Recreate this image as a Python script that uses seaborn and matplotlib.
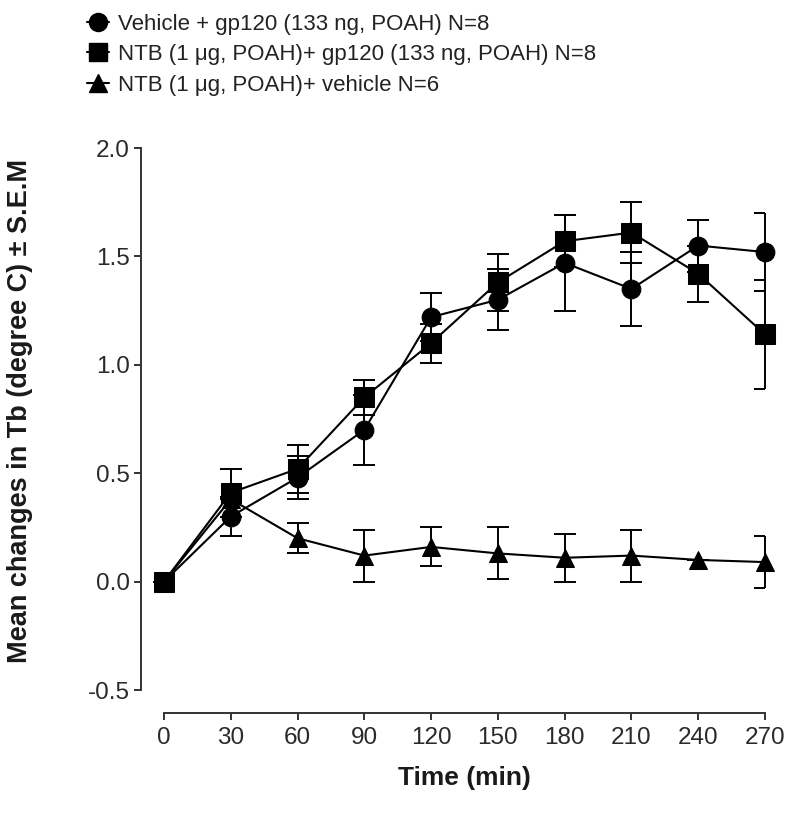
import matplotlib
matplotlib.use("Agg")
import matplotlib.pyplot as plt
import seaborn as sns
import pandas as pd
import numpy as np
from matplotlib.lines import Line2D
from matplotlib.path import Path

time_min = [0, 30, 60, 90, 120, 150, 180, 210, 240, 270]

veh_gp120_mean = [0.0, 0.30, 0.48, 0.70, 1.22, 1.30, 1.47, 1.35, 1.55, 1.52]
veh_gp120_sem = [0.0, 0.09, 0.10, 0.16, 0.11, 0.14, 0.22, 0.17, 0.12, 0.18]

ntb_gp120_mean = [0.0, 0.41, 0.52, 0.85, 1.10, 1.38, 1.57, 1.61, 1.42, 1.14]
ntb_gp120_sem = [0.0, 0.11, 0.11, 0.08, 0.09, 0.13, 0.12, 0.14, 0.13, 0.25]

ntb_veh_mean = [0.0, 0.38, 0.20, 0.12, 0.16, 0.13, 0.11, 0.12, 0.10, 0.09]
ntb_veh_sem = [0.0, 0.0, 0.07, 0.12, 0.09, 0.12, 0.11, 0.12, 0.0, 0.12]

labels = [
    "Vehicle + gp120 (133 ng, POAH) N=8",
    "NTB (1 \u03bcg, POAH)+ gp120 (133 ng, POAH) N=8",
    "NTB (1 \u03bcg, POAH)+ vehicle N=6",
]
xticks = [0, 30, 60, 90, 120, 150, 180, 210, 240, 270]
yticks = [-0.5, 0.0, 0.5, 1.0, 1.5, 2.0]

sns.set_style("white")
plt.rcParams["font.family"] = ["Liberation Sans", "DejaVu Sans"]

W, H = 800, 813
fig = plt.figure(figsize=(W / 100, H / 100), dpi=100)
ax = fig.add_axes([164 / W, 1 - 690 / H, (765 - 164) / W, (690 - 148) / H])

series = [
    (labels[0], veh_gp120_mean, veh_gp120_sem, "o", 13.5),
    (labels[2], ntb_veh_mean, ntb_veh_sem, "^", 13),
    (labels[1], ntb_gp120_mean, ntb_gp120_sem, "s", 14.5),
]

rows = []
for name, m, s, mk, ms in series:
    for t, v, e in zip(time_min, m, s):
        rows.append({"Time": t, "Value": v, "SEM": e, "Group": name})
df = pd.DataFrame(rows)

# left-half cap marker (used for the last time point, like the reference)
half_cap = Path([(-1.0, 0.0), (0.0, 0.0)], [Path.MOVETO, Path.LINETO])

for name, m, s, mk, ms in series:
    sub = df[df["Group"] == name]
    body = sub.iloc[:-1]
    last = sub.iloc[-1:]
    ax.errorbar(body["Time"], body["Value"], yerr=body["SEM"], fmt="none",
                ecolor="black", elinewidth=1.4, capsize=8, capthick=1.4,
                clip_on=False, zorder=2)
    ax.errorbar(last["Time"], last["Value"], yerr=last["SEM"], fmt="none",
                ecolor="black", elinewidth=1.4, capsize=0,
                clip_on=False, zorder=2)
    if float(last["SEM"].iloc[0]) > 0:
        ends = pd.DataFrame({
            "Time": np.repeat(last["Time"].values, 2),
            "Value": np.concatenate([last["Value"].values - last["SEM"].values,
                                     last["Value"].values + last["SEM"].values]),
        })
        ax.plot(ends["Time"], ends["Value"], linestyle="none", marker=half_cap,
                markersize=16, markeredgewidth=1.4, markeredgecolor="black",
                clip_on=False, zorder=2)
    sns.lineplot(data=sub, x="Time", y="Value", ax=ax, color="black",
                 marker=mk, markersize=ms, markeredgecolor="black",
                 linewidth=1.5, legend=False, clip_on=False, zorder=3)

ax.set_xlim(0, 270)
ax.set_ylim(-0.5, 2.0)
ax.set_xticks(xticks)
ax.set_yticks(yticks)
ax.set_xticklabels([str(t) for t in xticks])
ax.set_yticklabels([f"{v:.1f}" for v in yticks])

sns.despine(ax=ax)
ax.spines["left"].set_position(("outward", 16.5))
ax.spines["bottom"].set_position(("outward", 16.5))
for sp in ["left", "bottom"]:
    ax.spines[sp].set_color("#333333")
    ax.spines[sp].set_linewidth(1.4)
ax.tick_params(axis="both", direction="out", length=5, width=1.4,
               color="#333333", pad=3, bottom=True, left=True,
               labelsize=17.5, labelcolor="#2a2a2a")
ax.tick_params(axis="x", pad=5)

ax.set_xlabel("Time (min)", fontsize=19, fontweight="bold", color="#1a1a1a")
ax.set_ylabel("Mean changes in Tb (degree C) \u00b1 S.E.M", fontsize=19.5,
              fontweight="bold", color="#1a1a1a")
ax.xaxis.set_label_coords(0.5, (690 - 766) / 542)
ax.yaxis.set_label_coords((33 - 164) / 601, 0.515)

handles = [
    Line2D([], [], color="black", marker="o", markersize=13, linewidth=1.5),
    Line2D([], [], color="black", marker="s", markersize=13, linewidth=1.5),
    Line2D([], [], color="black", marker="^", markersize=13, linewidth=1.5),
]
fig.legend(handles, labels, loc="upper left", bbox_to_anchor=(78 / W, 1 - 5 / H),
           frameon=False, fontsize=16, handlelength=1.0, handletextpad=0.4,
           labelspacing=0.42, borderaxespad=0, labelcolor="#222222")

fig.savefig("out.png", dpi=100)
